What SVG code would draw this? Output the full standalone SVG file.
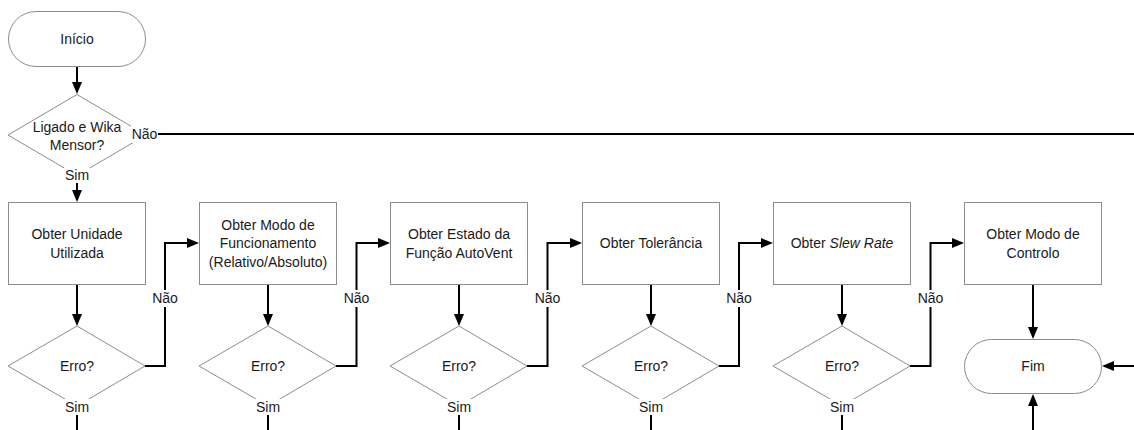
<svg xmlns="http://www.w3.org/2000/svg" width="1134" height="430" viewBox="0 0 1134 430">
  <defs>
    <marker id="arrow" viewBox="0 0 12 10" markerWidth="12" markerHeight="10" refX="10" refY="5" orient="auto" markerUnits="userSpaceOnUse">
      <path d="M0,0 L12,5 L0,10 z" fill="#000"/>
    </marker>
  </defs>
  <style>
    .shape { fill: #fff; stroke: #8c8c8c; stroke-width: 1; }
    .txt { font-family: "Liberation Sans", Arial, sans-serif; font-size: 14px; fill: #1a1a1a; text-anchor: middle; dominant-baseline: central; }
    .conn { fill: none; stroke: #000; stroke-width: 2; }
    .arr { marker-end: url(#arrow); }
    .lblbg { fill: #fff; }
  </style>
  <rect width="1134" height="430" fill="#fff"/>

  <!-- start terminal -->
  <g id="inicio">
    <rect class="shape" x="8.5" y="11.5" width="137" height="55" rx="27.5" ry="27.5"/>
    <text class="txt" x="77" y="39">Início</text>
  </g>

  <!-- power / device check -->
  <g id="check-ligado">
    <polygon class="shape" points="77,94.5 146,135 77,175.5 8,135"/>
    <text class="txt" x="77" y="127">Ligado e Wika</text>
    <text class="txt" x="77" y="145">Mensor?</text>
  </g>

  <!-- acquisition steps -->
  <g id="obter-unidade">
    <rect class="shape" x="8.5" y="202.5" width="137" height="82"/>
    <text class="txt" x="77" y="234">Obter Unidade</text>
    <text class="txt" x="77" y="253">Utilizada</text>
  </g>
  <g id="erro-1">
    <polygon class="shape" points="77,326 145,366 77,406 8,366"/>
    <text class="txt" x="77" y="366">Erro?</text>
  </g>

  <g id="obter-modo-func">
    <rect class="shape" x="199.5" y="202.5" width="137" height="82"/>
    <text class="txt" x="268" y="225">Obter Modo de</text>
    <text class="txt" x="268" y="243">Funcionamento</text>
    <text class="txt" x="268" y="262">(Relativo/Absoluto)</text>
  </g>
  <g id="erro-2">
    <polygon class="shape" points="268,326 336,366 268,406 199,366"/>
    <text class="txt" x="268" y="366">Erro?</text>
  </g>

  <g id="obter-autovent">
    <rect class="shape" x="390.5" y="202.5" width="137" height="82"/>
    <text class="txt" x="459" y="234">Obter Estado da</text>
    <text class="txt" x="459" y="253">Função AutoVent</text>
  </g>
  <g id="erro-3">
    <polygon class="shape" points="459,326 527,366 459,406 390,366"/>
    <text class="txt" x="459" y="366">Erro?</text>
  </g>

  <g id="obter-tolerancia">
    <rect class="shape" x="582.5" y="202.5" width="137" height="82"/>
    <text class="txt" x="651" y="243">Obter Tolerância</text>
  </g>
  <g id="erro-4">
    <polygon class="shape" points="651,326 719,366 651,406 582,366"/>
    <text class="txt" x="651" y="366">Erro?</text>
  </g>

  <g id="obter-slew-rate">
    <rect class="shape" x="773.5" y="202.5" width="137" height="82"/>
    <text class="txt" x="842" y="243">Obter <tspan font-style="italic">Slew Rate</tspan></text>
  </g>
  <g id="erro-5">
    <polygon class="shape" points="842,326 910,366 842,406 773,366"/>
    <text class="txt" x="842" y="366">Erro?</text>
  </g>

  <g id="obter-modo-controlo">
    <rect class="shape" x="964.5" y="202.5" width="137" height="82"/>
    <text class="txt" x="1033" y="234">Obter Modo de</text>
    <text class="txt" x="1033" y="253">Controlo</text>
  </g>

  <!-- end terminal -->
  <g id="fim">
    <rect class="shape" x="964.5" y="339.5" width="137" height="54" rx="27" ry="27"/>
    <text class="txt" x="1033" y="366">Fim</text>
  </g>

  <!-- flow lines -->
  <g id="connectors">
    <line class="conn arr" x1="77" y1="67" x2="77" y2="92"/>
    <line class="conn" x1="158" y1="134" x2="1134" y2="134"/>
    <line class="conn arr" x1="77" y1="183" x2="77" y2="200"/>

    <!-- box to decision -->
    <line class="conn arr" x1="77" y1="285" x2="77" y2="324"/>
    <line class="conn arr" x1="268" y1="285" x2="268" y2="324"/>
    <line class="conn arr" x1="459" y1="285" x2="459" y2="324"/>
    <line class="conn arr" x1="651" y1="285" x2="651" y2="324"/>
    <line class="conn arr" x1="842" y1="285" x2="842" y2="324"/>
    <line class="conn arr" x1="1033" y1="285" x2="1033" y2="337"/>

    <!-- "Não" branches to the next step -->
    <polyline class="conn arr" points="145,366 165,366 165,243 197,243"/>
    <polyline class="conn arr" points="336,366 356.5,366 356.5,243 388,243"/>
    <polyline class="conn arr" points="527,366 547.5,366 547.5,243 580,243"/>
    <polyline class="conn arr" points="719,366 739,366 739,243 771,243"/>
    <polyline class="conn arr" points="910,366 930.5,366 930.5,243 962,243"/>

    <!-- "Sim" exits -->
    <line class="conn" x1="77" y1="414" x2="77" y2="430"/>
    <line class="conn" x1="268" y1="414" x2="268" y2="430"/>
    <line class="conn" x1="459" y1="414" x2="459" y2="430"/>
    <line class="conn" x1="651" y1="414" x2="651" y2="430"/>
    <line class="conn" x1="842" y1="414" x2="842" y2="430"/>

    <!-- inputs into Fim -->
    <line class="conn arr" x1="1134" y1="366" x2="1104" y2="366"/>
    <line class="conn arr" x1="1033" y1="430" x2="1033" y2="396"/>

    <!-- labels -->
    <rect class="lblbg" x="131" y="126" width="27" height="17"/>
    <text class="txt" x="144.5" y="134">Não</text>
    <rect class="lblbg" x="64" y="167" width="26" height="16"/>
    <text class="txt" x="77" y="175">Sim</text>

    <rect class="lblbg" x="151" y="290" width="28" height="17"/>
    <text class="txt" x="165" y="298">Não</text>
    <rect class="lblbg" x="342.5" y="290" width="28" height="17"/>
    <text class="txt" x="356.5" y="298">Não</text>
    <rect class="lblbg" x="533.5" y="290" width="28" height="17"/>
    <text class="txt" x="547.5" y="298">Não</text>
    <rect class="lblbg" x="725" y="290" width="28" height="17"/>
    <text class="txt" x="739" y="298">Não</text>
    <rect class="lblbg" x="916.5" y="290" width="28" height="17"/>
    <text class="txt" x="930.5" y="298">Não</text>

    <rect class="lblbg" x="64" y="399" width="26" height="16"/>
    <text class="txt" x="77" y="407">Sim</text>
    <rect class="lblbg" x="255" y="399" width="26" height="16"/>
    <text class="txt" x="268" y="407">Sim</text>
    <rect class="lblbg" x="446" y="399" width="26" height="16"/>
    <text class="txt" x="459" y="407">Sim</text>
    <rect class="lblbg" x="638" y="399" width="26" height="16"/>
    <text class="txt" x="651" y="407">Sim</text>
    <rect class="lblbg" x="829" y="399" width="26" height="16"/>
    <text class="txt" x="842" y="407">Sim</text>
  </g>
</svg>
